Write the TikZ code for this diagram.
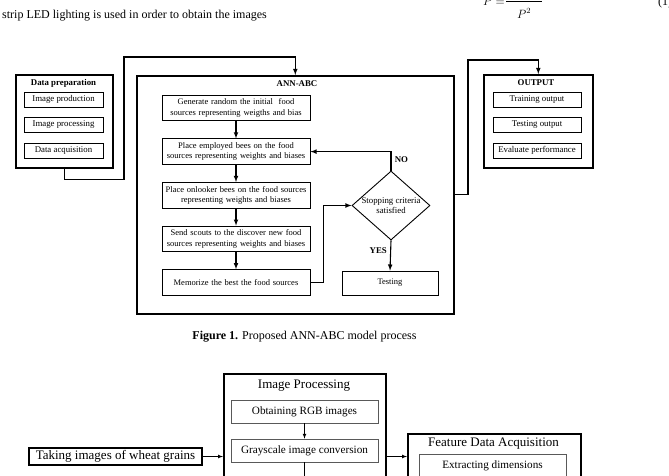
\documentclass[tikz,border=0pt]{standalone}
\usepackage{fontspec}
\setmainfont{Liberation Serif}
\usetikzlibrary{positioning,shapes.geometric}

\tikzstyle{frame} = [rectangle, draw, line width=1.6pt, inner sep=0pt, anchor=north west]
\tikzstyle{head} = [font=\fontsize{8.8}{10.5}\selectfont\bfseries]
\tikzstyle{item} = [rectangle, draw, line width=0.7pt, minimum width=79pt, minimum height=15pt, inner sep=0pt, font=\fontsize{8.8}{10.5}\selectfont]
\tikzstyle{block} = [rectangle, draw, line width=0.9pt, text width=146pt, text centered, minimum width=148pt, minimum height=25.5pt, inner sep=1pt, font=\fontsize{8.5}{10.5}\selectfont]
\tikzstyle{decision} = [diamond, draw, line width=0.9pt, minimum width=78pt, minimum height=69pt, inner sep=0pt]
\tikzstyle{line} = [draw, line width=1.1pt, -latex]
\tikzstyle{bigframe} = [rectangle, draw, line width=1.5pt, inner sep=0pt, anchor=north west]
\tikzstyle{bigitem} = [rectangle, draw=black!65, line width=0.6pt, minimum width=147pt, minimum height=23pt, inner sep=0pt, font=\fontsize{11.2}{13}\selectfont]
\tikzstyle{thin} = [draw, line width=0.7pt, -latex]
\tikzstyle{pagetext} = [anchor=base west, inner sep=0pt, font=\fontsize{12}{14}\selectfont]

\begin{document}
\begin{tikzpicture}[x=1pt, y=-1pt, node distance=43.6pt]
\useasboundingbox (0,0) rectangle (669,475);
\clip (0,0) rectangle (669,475);

% text of the page above the figure
\node[pagetext] (para) at (2,18) {strip LED lighting is used in order to obtain the images};
\node[pagetext] (eqnleft) at (483,5) {$P=$};
\node[pagetext] (eqnden) at (517,18) {$P^2$};
\draw[line width=0.5pt] (506,1) -- (542,1);
\node[pagetext] (eqnum) at (658,5) {(1)};

% Data preparation
\node[frame, minimum width=97pt, minimum height=93pt] (prep) at (15,74) {};
\node[head] (preptitle) at (63.5,83) {Data preparation};
\node[item] (imgprod) at (63.5,99.5) {Image production};
\node[item, below of=imgprod, node distance=25.5pt] (imgproc) {Image processing};
\node[item, below of=imgproc, node distance=25.5pt] (dataacq) {Data acquisition};

% ANN-ABC
\node[frame, minimum width=317pt, minimum height=238pt] (annabc) at (136,75) {};
\node[head] (anntitle) at (297,84) {ANN-ABC};
\node[block] (init) at (236,108) {Generate random the initial\ \ food\\ sources representing weigths and bias};
\node[block, below of=init] (employed) {Place employed bees on the food\\ sources representing weights and biases};
\node[block, below of=employed] (onlooker) {Place onlooker bees on the food sources\\ representing weights and biases};
\node[block, below of=onlooker] (scouts) {Send scouts to the discover new food\\ sources representing weights and biases};
\node[block, below of=scouts] (memorize) {Memorize the best the food sources};
\node[decision, label={[align=center, font=\fontsize{8.8}{10.5}\selectfont]center:Stopping criteria\\satisfied}] (stop) at (391,205.5) {};
\node[block, text width=94pt, minimum width=96pt, minimum height=24pt] (testing) at (390,283) {Testing};

% OUTPUT
\node[frame, minimum width=109pt, minimum height=93pt] (output) at (483,74) {};
\node[head] (outtitle) at (536,83) {OUTPUT};
\node[item, minimum width=88pt] (trainout) at (537,99.5) {Training output};
\node[item, minimum width=88pt, below of=trainout, node distance=25.5pt] (testout) {Testing output};
\node[item, minimum width=88pt, below of=testout, node distance=25.5pt] (evalperf) {Evaluate performance};

\path [line] (prep.south) --++ (0,11) -| (124,57) -| (annabc.north);
\path [line] (annabc.east) -| (468,60) -| (output.north);
\path [line] (init) -- (employed);
\path [line] (employed) -- (onlooker);
\path [line] (onlooker) -- (scouts);
\path [line] (scouts) -- (memorize);
\path [line] (memorize.east) --++ (13,0) |- (stop.west);
\path [line] (stop.north) |- node [head, pos=0.3, right] (no) {NO} (employed.east);
\path [line] (stop.south) -- node [head, pos=0.35, left] (yes) {YES} (testing.north);

\node[anchor=base, font=\fontsize{12}{14}\selectfont] (caption) at (304.5,339) {\textbf{Figure 1.} Proposed ANN-ABC model process};

% next figure, cut by the page
\node[bigframe, minimum width=162pt, minimum height=150pt] (improcbox) at (223,373) {};
\node[font=\fontsize{13}{15}\selectfont] (improctitle) at (304,386) {Image Processing};
\node[bigitem] (rgb) at (304.5,411.5) {Obtaining RGB images};
\node[bigitem, below of=rgb, node distance=39pt] (gray) {Grayscale image conversion};
\node[bigframe, line width=2pt, anchor=center, minimum width=173pt, minimum height=17pt, font=\fontsize{13}{15}\selectfont] (taking) at (115.5,456.5) {Taking images of wheat grains};
\node[bigframe, minimum width=173pt, minimum height=100pt] (feature) at (407,433) {};
\node[font=\fontsize{13}{15}\selectfont] (featuretitle) at (493.5,444) {Feature Data Acquisition};
\node[bigitem] (extract) at (492.5,465.5) {Extracting dimensions};
\coordinate (cut) at (304.5,484);

\path [thin] (rgb) -- (gray);
\path [thin] (gray) -- (cut);
\path [thin] (taking) -- (taking -| improcbox.west);
\path [thin] (taking -| improcbox.east) -- (taking -| feature.west);
\end{tikzpicture}
\end{document}
